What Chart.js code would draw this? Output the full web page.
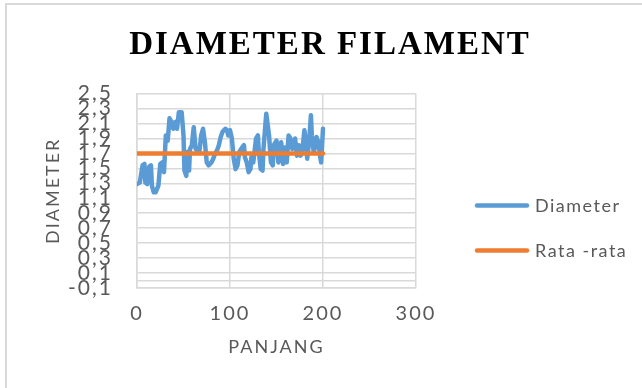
<!DOCTYPE html>
<html>
<head>
<meta charset="utf-8">
<script src="https://cdn.jsdelivr.net/npm/chart.js@4.4.1/dist/chart.umd.min.js"></script>
<style>
  html, body { margin: 0; padding: 0; background: #fff; }
  #wrap { position: relative; width: 642px; height: 388px; overflow: hidden; }
  #frame { position: absolute; left: 5px; top: 3px; right: -10px; bottom: -10px;
           border-left: 2px solid #d9d9d9; border-top: 2px solid #d9d9d9; }
  canvas { position: absolute; left: 0; top: 0; }
</style>
</head>
<body>
<div id="wrap">
  <div id="frame"></div>
  <canvas id="chart" width="642" height="388"></canvas>
</div>
<script>
// Filament diameter measured along its length
const panjang = [
  0, 3, 6, 8, 9, 11, 13, 15, 16, 18, 20, 23, 25, 27, 29, 31, 33, 35, 37, 39,
  41, 43, 45, 48, 50, 51, 53, 54, 56, 57, 59, 61, 63, 67, 69, 71, 73, 75, 77, 80,
  82, 84, 86, 88, 90, 92, 95, 97, 98, 100, 102, 104, 106, 108, 110, 112, 115, 116, 118, 120,
  122, 123, 125, 128, 130, 131, 133, 135, 136, 139, 142, 144, 146, 147, 150, 152, 153, 155, 156, 157,
  159, 161, 163, 165, 167, 170, 172, 174, 176, 178, 180, 182, 183, 185, 187, 188, 190, 192, 193, 195,
  197, 198, 200
];
const diameter = [
  1.29, 1.31, 1.54, 1.56, 1.31, 1.29, 1.52, 1.54, 1.27, 1.18, 1.18, 1.27, 1.56, 1.58, 1.45, 1.94, 1.87, 2.17, 2.12, 2.03,
  2.12, 2.03, 2.25, 2.25, 1.94, 1.47, 1.40, 1.72, 1.47, 1.76, 1.81, 2.05, 1.76, 1.72, 1.94, 2.03, 1.85, 1.58, 1.54, 1.58,
  1.63, 1.70, 1.74, 1.81, 1.92, 1.99, 2.03, 2.01, 1.94, 2.01, 1.90, 1.63, 1.49, 1.54, 1.72, 1.76, 1.81, 1.65, 1.58, 1.45,
  1.49, 1.65, 1.58, 1.90, 1.94, 1.72, 1.49, 1.47, 1.76, 2.23, 1.94, 1.58, 1.54, 1.81, 1.87, 1.58, 1.63, 1.85, 1.72, 1.56,
  1.78, 1.58, 1.94, 1.90, 1.76, 1.90, 1.67, 1.81, 1.67, 1.76, 2.01, 1.81, 1.63, 1.85, 2.21, 1.94, 1.72, 1.81, 1.92, 1.85,
  1.65, 1.58, 2.03
];
// Mean diameter, drawn across the measured length
const rataRata = 1.7;
const rataX = [0, 200];

const BLUE = '#5B9BD5';
const ORANGE = '#ED7D31';
const GRID = '#d9d9d9';
const TEXT = '#595959';

Chart.defaults.font.family = 'Lato';
Chart.defaults.elements.line.borderCapStyle = 'round';
Chart.defaults.elements.line.borderJoinStyle = 'round';

// Slightly spaced lettering for all canvas text
const letterSpacing = {
  id: 'letterSpacing',
  beforeLayout(chart) { chart.ctx.letterSpacing = '2px'; },
  beforeDraw(chart) { chart.ctx.letterSpacing = '2px'; }
};

// Legend at the right: a line sample and the series name, one row per dataset
const sideLegend = {
  id: 'sideLegend',
  afterDraw(chart) {
    const { ctx, chartArea } = chart;
    const x0 = chartArea.right + 61;
    let y = chartArea.top + 112;
    chart.data.datasets.forEach(ds => {
      ctx.save();
      ctx.strokeStyle = ds.borderColor;
      ctx.lineWidth = ds.borderWidth;
      ctx.lineCap = 'round';
      ctx.beginPath();
      ctx.moveTo(x0, y);
      ctx.lineTo(x0 + 50, y);
      ctx.stroke();
      ctx.letterSpacing = '1.5px';
      ctx.fillStyle = TEXT;
      ctx.font = '18px Lato';
      ctx.textBaseline = 'middle';
      ctx.textAlign = 'left';
      ctx.fillText(ds.label, x0 + 58, y + 1);
      ctx.restore();
      y += 45;
    });
  }
};

new Chart(document.getElementById('chart'), {
  type: 'line',
  data: {
    datasets: [
      {
        label: 'Diameter',
        data: panjang.map((x, i) => ({ x, y: diameter[i] })),
        borderColor: BLUE,
        borderWidth: 4.5,
        pointRadius: 0,
        tension: 0,
        order: 1
      },
      {
        label: 'Rata -rata',
        data: rataX.map(x => ({ x, y: rataRata })),
        borderColor: ORANGE,
        borderWidth: 4.5,
        pointRadius: 0,
        tension: 0,
        order: 0
      }
    ]
  },
  options: {
    responsive: false,
    animation: false,
    layout: { padding: { left: 18, right: 0, top: 0, bottom: 0 } },
    plugins: {
      title: {
        display: true,
        text: 'DIAMETER FILAMENT',
        color: '#000',
        font: { family: '"Liberation Serif", "Times New Roman", serif', size: 33, weight: 'bold' },
        padding: { top: 26, bottom: 28 }
      },
      legend: { display: false },
      tooltip: { enabled: false }
    },
    scales: {
      x: {
        type: 'linear',
        min: 0,
        max: 300,
        ticks: { stepSize: 100, padding: 14, color: TEXT, font: { size: 20 }, maxRotation: 0 },
        grid: { color: GRID, lineWidth: 1.5, drawTicks: false },
        border: { color: GRID, width: 1.5 },
        title: { display: true, text: 'PANJANG', color: TEXT, font: { size: 18 }, padding: { top: 0, bottom: 30 } },
        afterFit(scale) { scale.height = 100; }
      },
      y: {
        min: -0.1,
        max: 2.5,
        afterBuildTicks(scale) {
          scale.ticks.push({ value: 0 });
          scale.ticks.sort((a, b) => a.value - b.value);
        },
        ticks: {
          stepSize: 0.2,
          autoSkip: false,
          padding: 24,
          color: TEXT,
          font: { size: 21 },
          callback(v) { return Math.abs(v) < 1e-9 ? '' : v.toFixed(1).replace('.', ','); }
        },
        grid: { color: GRID, lineWidth: 1.5, drawTicks: false },
        border: { color: GRID, width: 1.5 },
        title: { display: true, text: 'DIAMETER', color: TEXT, font: { size: 18 }, padding: { top: 24, bottom: 0 } },
        afterFit(scale) { scale.width = 119; }
      },
      gap: {
        type: 'linear',
        position: 'right',
        grid: { display: false, drawTicks: false },
        border: { display: false },
        ticks: { display: false },
        afterFit(scale) { scale.width = 226; }
      }
    }
  },
  plugins: [letterSpacing, sideLegend]
});
</script>
</body>
</html>
